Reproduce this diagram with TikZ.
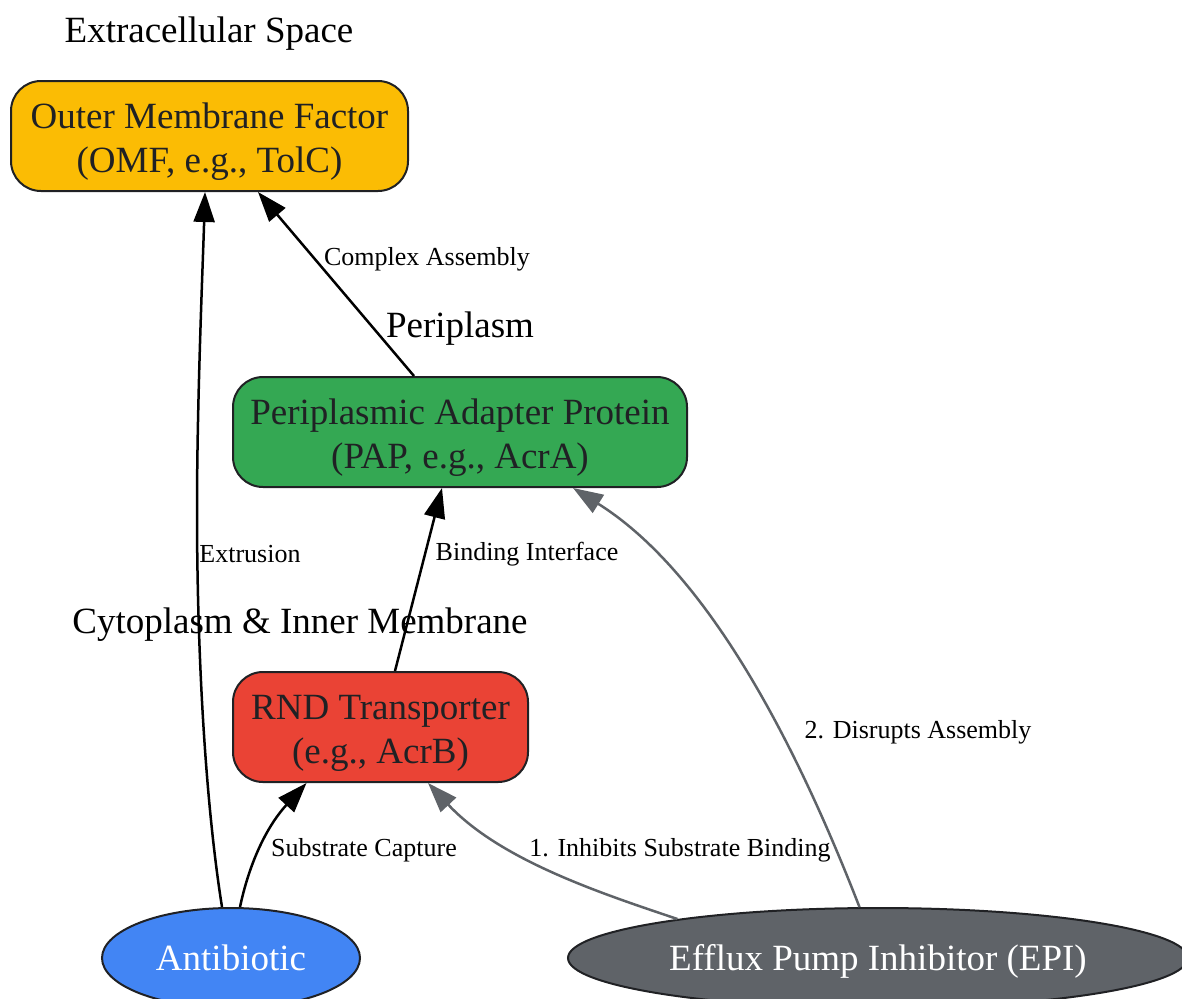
\documentclass[tikz,border=0pt]{standalone}
\usepackage{fontspec}
\setmainfont{Liberation Serif}
\usetikzlibrary{arrows.meta,shapes.geometric}
\definecolor{omfc}{HTML}{FBBC04}
\definecolor{papc}{HTML}{34A853}
\definecolor{rndc}{HTML}{EA4335}
\definecolor{abc}{HTML}{4285F4}
\definecolor{epic}{HTML}{5F6368}
\definecolor{txt}{HTML}{202124}
\definecolor{bord}{HTML}{202124}
\newcommand{\twolines}[2]{\raisebox{-6pt}[\height][\depth]{\begin{tabular}{@{}c@{}}#1\\#2\end{tabular}}}
\newcommand{\lowered}[2]{\raisebox{-#1}[\height][\depth]{#2}}
\tikzset{
  box/.style={draw=bord, line width=2pt, rounded corners=30, inner sep=0,
    text=txt, font=\fontsize{37}{44}\selectfont},
  oval/.style={ellipse, draw=bord, line width=2pt, inner sep=0, text=white,
    font=\fontsize{37}{44}\selectfont},
  cl/.style={font=\fontsize{37}{44}\selectfont, text=black},
  lbl/.style={font=\fontsize{26}{31}\selectfont, text=black},
  edge/.style={line width=2.5pt, draw=black, -{Triangle[length=30pt,width=21pt]}},
  gedge/.style={line width=2.5pt, draw=epic, -{Triangle[length=30pt,width=21pt]}},
}
\begin{document}
\begin{tikzpicture}[x=1pt,y=-1pt]
\useasboundingbox (0,0) rectangle (1182,998);
\clip (0,0) rectangle (1182,998);
\node[cl] (cl1) at (209,34) {Extracellular Space};
\node[cl] (cl2) at (460,329) {Periplasm};
\node[cl] (cl3) at (300,625) {Cytoplasm \& Inner Membrane};

\node[box, fill=omfc, minimum width=397, minimum height=110] (omf) at (209.5,136) {\twolines{Outer Membrane Factor}{(OMF, e.g., TolC)}};
\node[box, fill=papc, minimum width=454, minimum height=110] (pap) at (460,432) {\twolines{Periplasmic Adapter Protein}{(PAP, e.g., AcrA)}};
\node[box, fill=rndc, minimum width=295, minimum height=110] (rnd) at (380.5,727) {\twolines{RND Transporter}{(e.g., AcrB)}};
\node[oval, fill=abc, minimum width=258, minimum height=100] (ab) at (231,958) {Antibiotic};
\node[oval, fill=epic, minimum width=620, minimum height=100] (epi) at (878,958) {\lowered{3pt}{Efflux Pump Inhibitor (EPI)}};

\draw[edge] ([xshift=-9]ab.north) .. controls (205,800) and (197,650) .. (197,510)
  .. controls (197,400) and (203,260) .. ([xshift=-4.5]omf.south);
\node[lbl] (l1) at (250,554) {Extrusion};
\draw[edge] ([xshift=9]ab.north) .. controls (250,860) and (268,825) .. ([xshift=-74]rnd.south);
\node[lbl] (l2) at (364,850) {Substrate Capture};
\draw[edge] ([xshift=14.5]rnd.north) -- ([xshift=-18]pap.south);
\node[lbl] (l3) at (527,554) {Binding Interface};
\draw[edge] ([xshift=-46]pap.north) -- ([xshift=48.5]omf.south);
\node[lbl] (l4) at (427,259) {Complex Assembly};
\draw[gedge] (epi.169) .. controls (600,893) and (500,860) .. ([xshift=47.5]rnd.south);
\node[lbl] (l5) at (680,850) {1. Inhibits Substrate Binding};
\draw[gedge] (epi.110) .. controls (810,780) and (720,580) .. ([xshift=113]pap.south);
\node[lbl] (l6) at (918,732) {2. Disrupts Assembly};
\end{tikzpicture}
\end{document}
